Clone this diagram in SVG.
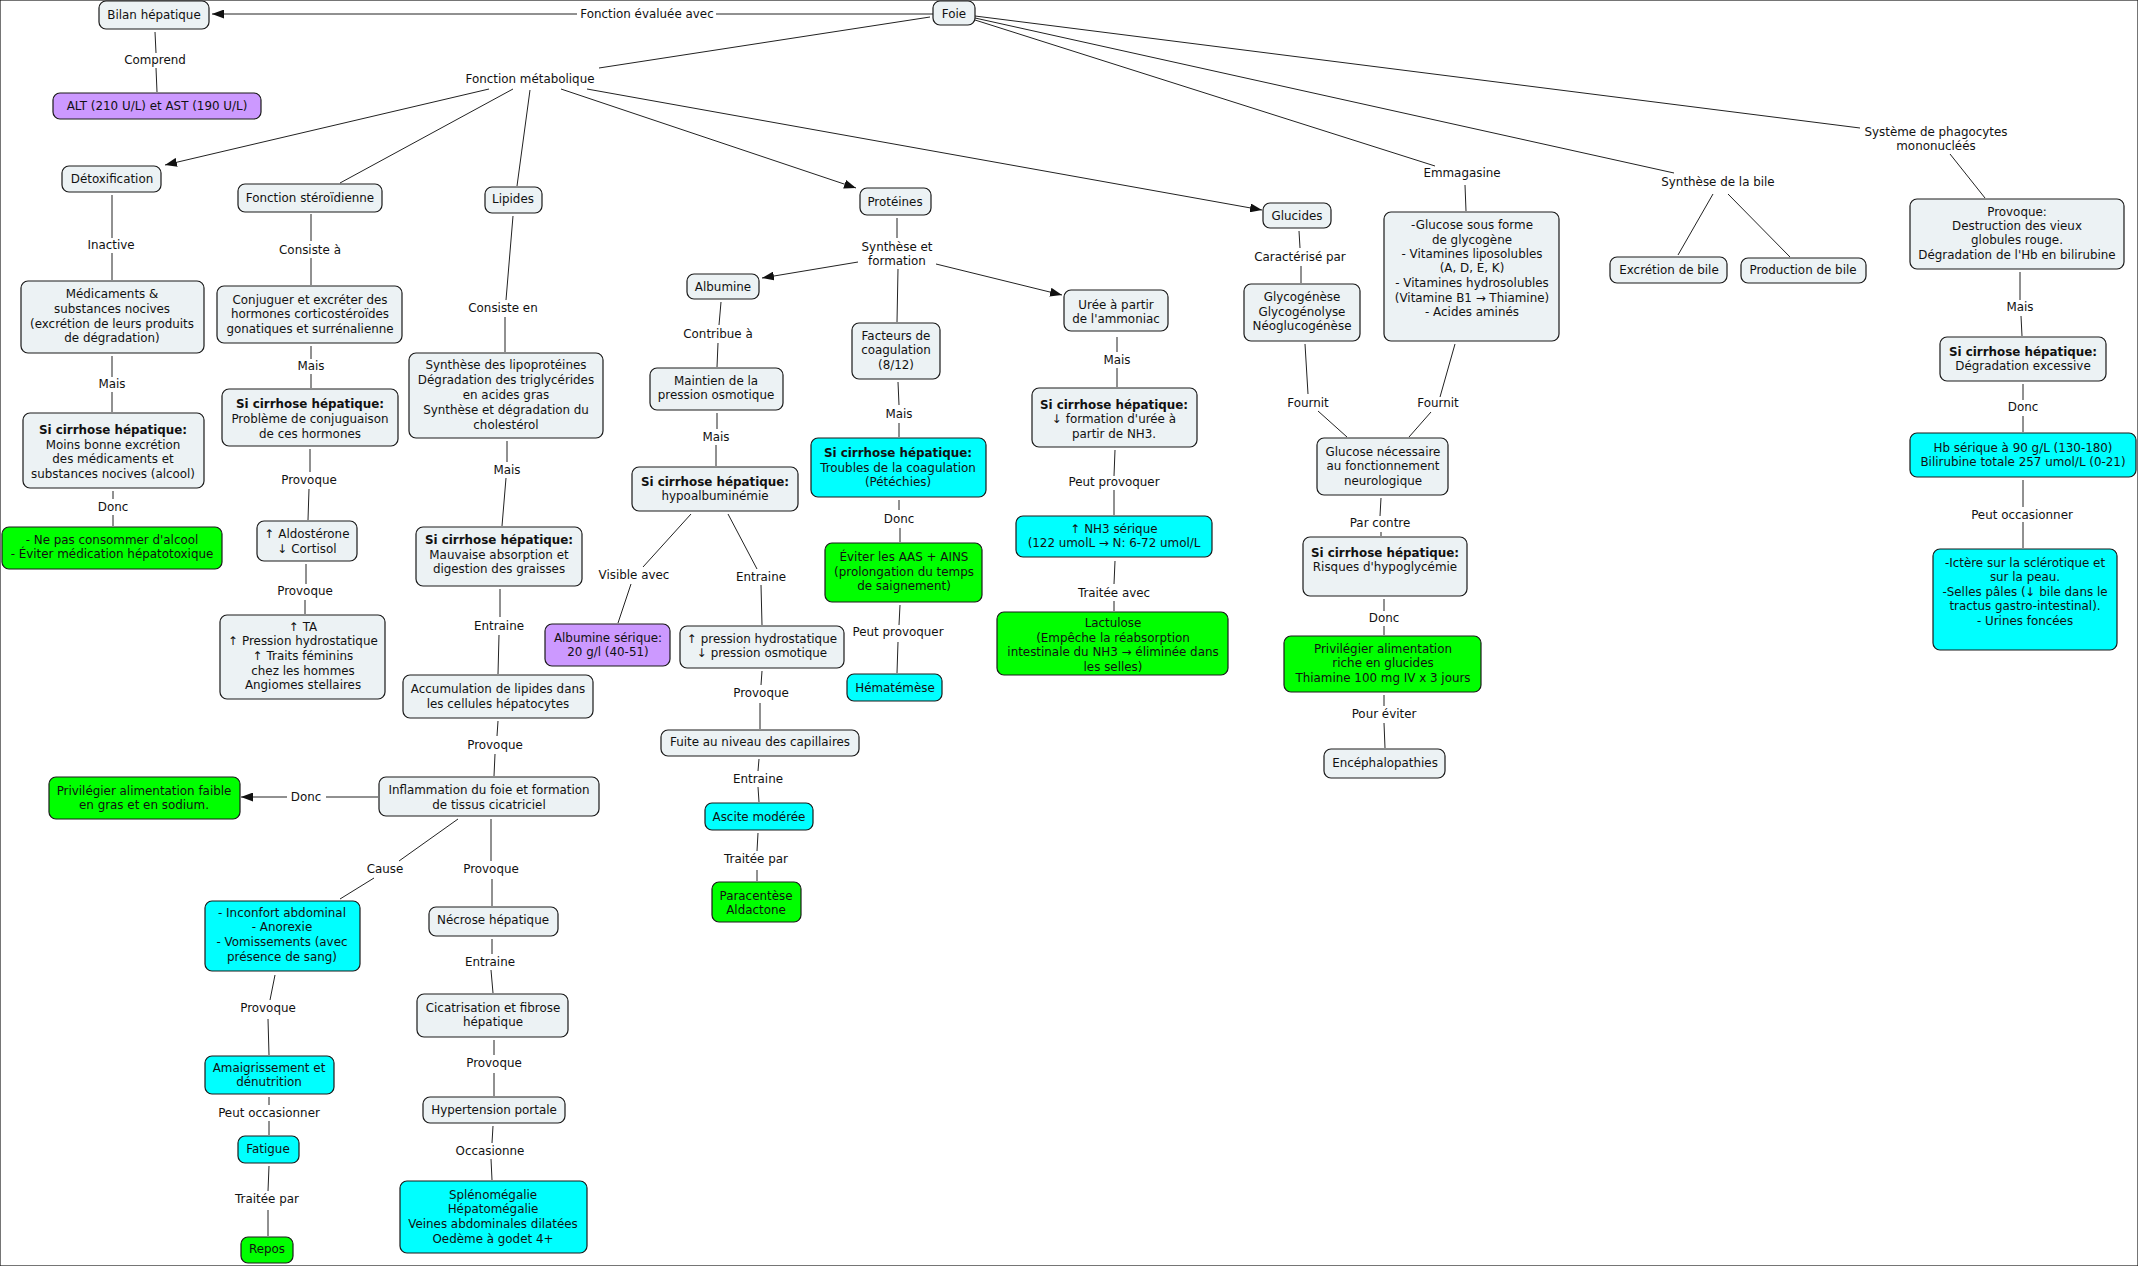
<svg xmlns="http://www.w3.org/2000/svg" width="2138" height="1266" viewBox="0 0 2138 1266">
<style>
rect{stroke:#1a1a1a;stroke-width:1.2}
.n{fill:#ECF2F4}
.cy{fill:#00FFFF}
.gr{fill:#00FF00}
.pu{fill:#CC99FF}
text{font-family:"DejaVu Sans",Verdana,sans-serif;font-size:11.9px;fill:#111;text-anchor:middle}
.b{font-weight:bold}
#connectors line{stroke:#222;stroke-width:1}
.a{marker-end:url(#arr)}
</style>
<defs>
<marker id="arr" markerUnits="userSpaceOnUse" markerWidth="12" markerHeight="9" refX="12" refY="4.5" orient="auto"><path d="M0,0 L12,4.5 L0,9 z" fill="#111"/></marker>
</defs>
<rect x="0" y="0" width="2138" height="1266" fill="#fff" stroke="none"/>
<g id="connectors">
<line x1="933" y1="14" x2="716" y2="14"/><line class="a" x1="577" y1="14" x2="212" y2="14"/>
<line x1="155" y1="32" x2="156" y2="53"/><line x1="156" y1="68" x2="157" y2="92"/>
<line x1="930" y1="17" x2="599" y2="68"/>
<line class="a" x1="489" y1="89" x2="165" y2="165"/>
<line x1="513" y1="89" x2="340" y2="183"/>
<line x1="530" y1="90" x2="517" y2="186"/>
<line class="a" x1="561" y1="89" x2="856" y2="188"/>
<line class="a" x1="587" y1="89" x2="1262" y2="210"/>
<line x1="112" y1="195" x2="112" y2="238"/><line x1="112" y1="253" x2="112" y2="280"/>
<line x1="112" y1="356" x2="112" y2="377"/><line x1="112" y1="392" x2="112" y2="412"/>
<line x1="113" y1="491" x2="113" y2="499"/><line x1="113" y1="515" x2="113" y2="526"/>
<line x1="311" y1="214" x2="311" y2="241"/><line x1="311" y1="258" x2="311" y2="285"/>
<line x1="311" y1="346" x2="311" y2="359"/><line x1="311" y1="374" x2="311" y2="388"/>
<line x1="310" y1="449" x2="310" y2="472"/><line x1="309" y1="489" x2="308" y2="520"/>
<line x1="306" y1="564" x2="306" y2="584"/><line x1="305" y1="600" x2="305" y2="614"/>
<line x1="513" y1="216" x2="506" y2="300"/><line x1="505" y1="317" x2="505" y2="352"/>
<line x1="507" y1="441" x2="507" y2="462"/><line x1="506" y1="478" x2="502" y2="526"/>
<line x1="500" y1="589" x2="500" y2="617"/><line x1="499" y1="635" x2="498" y2="674"/>
<line x1="498" y1="721" x2="497" y2="736"/><line x1="495" y1="754" x2="494" y2="776"/>
<line x1="378" y1="797" x2="326" y2="797"/><line class="a" x1="287" y1="797" x2="241" y2="797"/>
<line x1="458" y1="819" x2="399" y2="861"/><line x1="374" y1="878" x2="340" y2="899"/>
<line x1="491" y1="819" x2="491" y2="861"/><line x1="492" y1="879" x2="492" y2="906"/>
<line x1="275" y1="975" x2="270" y2="1000"/><line x1="268" y1="1019" x2="269" y2="1055"/>
<line x1="269" y1="1097" x2="269" y2="1105"/><line x1="269" y1="1121" x2="269" y2="1135"/>
<line x1="269" y1="1166" x2="268" y2="1191"/><line x1="268" y1="1210" x2="268" y2="1236"/>
<line x1="492" y1="939" x2="492" y2="954"/><line x1="491" y1="970" x2="493" y2="993"/>
<line x1="494" y1="1040" x2="494" y2="1055"/><line x1="494" y1="1073" x2="494" y2="1096"/>
<line x1="493" y1="1126" x2="492" y2="1143"/><line x1="491" y1="1159" x2="492" y2="1180"/>
<line x1="897" y1="218" x2="897" y2="238"/>
<line class="a" x1="858" y1="262" x2="762" y2="278"/>
<line x1="898" y1="269" x2="897" y2="322"/>
<line class="a" x1="936" y1="264" x2="1062" y2="295"/>
<line x1="721" y1="302" x2="719" y2="325"/><line x1="718" y1="343" x2="717" y2="367"/>
<line x1="717" y1="413" x2="717" y2="429"/><line x1="716" y1="445" x2="716" y2="466"/>
<line x1="691" y1="514" x2="643" y2="567"/><line x1="631" y1="584" x2="618" y2="623"/>
<line x1="728" y1="514" x2="757" y2="569"/><line x1="761" y1="585" x2="762" y2="625"/>
<line x1="762" y1="671" x2="761" y2="685"/><line x1="760" y1="703" x2="760" y2="729"/>
<line x1="759" y1="759" x2="758" y2="771"/><line x1="758" y1="787" x2="759" y2="802"/>
<line x1="758" y1="833" x2="757" y2="851"/><line x1="757" y1="870" x2="757" y2="881"/>
<line x1="898" y1="382" x2="899" y2="405"/><line x1="899" y1="423" x2="899" y2="437"/>
<line x1="899" y1="500" x2="899" y2="510"/><line x1="900" y1="528" x2="900" y2="542"/>
<line x1="900" y1="605" x2="899" y2="625"/><line x1="898" y1="642" x2="897" y2="673"/>
<line x1="1117" y1="337" x2="1117" y2="352"/><line x1="1117" y1="368" x2="1117" y2="387"/>
<line x1="1115" y1="450" x2="1114" y2="476"/><line x1="1114" y1="490" x2="1114" y2="515"/>
<line x1="1115" y1="561" x2="1114" y2="584"/><line x1="1114" y1="601" x2="1114" y2="611"/>
<line x1="1299" y1="231" x2="1300" y2="248"/><line x1="1301" y1="266" x2="1301" y2="283"/>
<line x1="1305" y1="344" x2="1308" y2="394"/><line x1="1318" y1="411" x2="1347" y2="437"/>
<line x1="975" y1="20" x2="1435" y2="166"/><line x1="1465" y1="185" x2="1466" y2="211"/>
<line x1="1455" y1="344" x2="1440" y2="397"/><line x1="1431" y1="412" x2="1409" y2="437"/>
<line x1="1381" y1="498" x2="1380" y2="516"/><line x1="1381" y1="532" x2="1381" y2="536"/>
<line x1="1384" y1="599" x2="1384" y2="611"/><line x1="1384" y1="626" x2="1384" y2="635"/>
<line x1="1384" y1="695" x2="1384" y2="706"/><line x1="1384" y1="723" x2="1385" y2="748"/>
<line x1="975" y1="18" x2="1674" y2="173"/>
<line x1="1713" y1="194" x2="1678" y2="255"/><line x1="1728" y1="194" x2="1790" y2="257"/>
<line x1="975" y1="16" x2="1860" y2="128"/>
<line x1="1950" y1="154" x2="1985" y2="198"/>
<line x1="2020" y1="272" x2="2020" y2="300"/><line x1="2021" y1="316" x2="2022" y2="336"/>
<line x1="2023" y1="384" x2="2023" y2="400"/><line x1="2023" y1="416" x2="2023" y2="432"/>
<line x1="2023" y1="480" x2="2023" y2="507"/><line x1="2023" y1="522" x2="2023" y2="548"/>
</g>
<g id="link-labels">
<text x="647" y="18">Fonction évaluée avec</text>
<text x="155" y="64">Comprend</text>
<text x="530" y="83">Fonction métabolique</text>
<text x="111" y="249">Inactive</text>
<text x="310" y="254">Consiste à</text>
<text x="503" y="312">Consiste en</text>
<text x="112" y="388">Mais</text>
<text x="311" y="370">Mais</text>
<text x="507" y="474">Mais</text>
<text x="716" y="441">Mais</text>
<text x="899" y="418">Mais</text>
<text x="1117" y="364">Mais</text>
<text x="2020" y="311">Mais</text>
<text x="113" y="511">Donc</text>
<text x="306" y="801">Donc</text>
<text x="899" y="523">Donc</text>
<text x="1384" y="622">Donc</text>
<text x="2023" y="411">Donc</text>
<text x="309" y="484">Provoque</text>
<text x="305" y="595">Provoque</text>
<text x="495" y="749">Provoque</text>
<text x="491" y="873">Provoque</text>
<text x="268" y="1012">Provoque</text>
<text x="761" y="697">Provoque</text>
<text x="494" y="1067">Provoque</text>
<text x="499" y="630">Entraine</text>
<text x="761" y="581">Entraine</text>
<text x="758" y="783">Entraine</text>
<text x="490" y="966">Entraine</text>
<text x="385" y="873">Cause</text>
<text x="269" y="1117">Peut occasionner</text>
<text x="2022" y="519">Peut occasionner</text>
<text x="267" y="1203">Traitée par</text>
<text x="756" y="863">Traitée par</text>
<text x="490" y="1155">Occasionne</text>
<text x="897" y="251">Synthèse et</text>
<text x="897" y="265">formation</text>
<text x="718" y="338">Contribue à</text>
<text x="634" y="579">Visible avec</text>
<text x="898" y="636">Peut provoquer</text>
<text x="1114" y="486">Peut provoquer</text>
<text x="1114" y="597">Traitée avec</text>
<text x="1300" y="261">Caractérisé par</text>
<text x="1462" y="177">Emmagasine</text>
<text x="1308" y="407">Fournit</text>
<text x="1438" y="407">Fournit</text>
<text x="1380" y="527">Par contre</text>
<text x="1384" y="718">Pour éviter</text>
<text x="1718" y="186">Synthèse de la bile</text>
<text x="1936" y="136">Système de phagocytes</text>
<text x="1936" y="150">mononucléés</text>
</g>
<g id="n-bilan"><rect class="n" x="99" y="1" width="110" height="28" rx="7"/><text x="154" y="19">Bilan hépatique</text></g>
<g id="n-alt"><rect class="pu" x="53" y="93" width="208" height="26" rx="7"/><text x="157" y="110">ALT (210 U/L) et AST (190 U/L)</text></g>
<g id="n-foie"><rect class="n" x="933" y="1" width="42" height="24" rx="7"/><text x="954" y="18">Foie</text></g>
<g id="n-detox"><rect class="n" x="62" y="166" width="99" height="26" rx="7"/><text x="112" y="183">Détoxification</text></g>
<g id="n-sterod"><rect class="n" x="238" y="184" width="144" height="28" rx="7"/><text x="310" y="202">Fonction stéroïdienne</text></g>
<g id="n-lipides"><rect class="n" x="485" y="187" width="57" height="26" rx="7"/><text x="513" y="203">Lipides</text></g>
<g id="n-medic"><rect class="n" x="21" y="281" width="183" height="72" rx="7"/><text x="112"><tspan x="112" y="298">Médicaments &amp;</tspan><tspan x="112" y="313">substances nocives</tspan><tspan x="112" y="328">(excrétion de leurs produits</tspan><tspan x="112" y="342">de dégradation)</tspan></text></g>
<g id="n-cirr-detox"><rect class="n" x="23" y="413" width="181" height="75" rx="7"/><text x="113"><tspan class="b" x="113" y="434">Si cirrhose hépatique:</tspan><tspan x="113" y="449">Moins bonne excrétion</tspan><tspan x="113" y="463">des médicaments et</tspan><tspan x="113" y="478">substances nocives (alcool)</tspan></text></g>
<g id="n-alcool"><rect class="gr" x="2" y="527" width="220" height="42" rx="7"/><text x="112"><tspan x="112" y="544">- Ne pas consommer d'alcool</tspan><tspan x="112" y="558">- Éviter médication hépatotoxique</tspan></text></g>
<g id="n-conj"><rect class="n" x="217" y="286" width="185" height="57" rx="7"/><text x="310"><tspan x="310" y="304">Conjuguer et excréter des</tspan><tspan x="310" y="318">hormones corticostéroïdes</tspan><tspan x="310" y="333">gonatiques et surrénalienne</tspan></text></g>
<g id="n-cirr-ster"><rect class="n" x="222" y="389" width="176" height="57" rx="7"/><text x="310"><tspan class="b" x="310" y="408">Si cirrhose hépatique:</tspan><tspan x="310" y="423">Problème de conjuguaison</tspan><tspan x="310" y="438">de ces hormones</tspan></text></g>
<g id="n-aldo"><rect class="n" x="257" y="521" width="100" height="40" rx="7"/><text x="307"><tspan x="307" y="538">↑ Aldostérone</tspan><tspan x="307" y="553">↓ Cortisol</tspan></text></g>
<g id="n-ta"><rect class="n" x="220" y="615" width="165" height="84" rx="7"/><text x="303"><tspan x="303" y="631">↑ TA</tspan><tspan x="303" y="645">↑ Pression hydrostatique</tspan><tspan x="303" y="660">↑ Traits féminins</tspan><tspan x="303" y="675">chez les hommes</tspan><tspan x="303" y="689">Angiomes stellaires</tspan></text></g>
<g id="n-synth-lip"><rect class="n" x="409" y="353" width="194" height="85" rx="7"/><text x="506"><tspan x="506" y="369">Synthèse des lipoprotéines</tspan><tspan x="506" y="384">Dégradation des triglycérides</tspan><tspan x="506" y="399">en acides gras</tspan><tspan x="506" y="414">Synthèse et dégradation du</tspan><tspan x="506" y="429">cholestérol</tspan></text></g>
<g id="n-cirr-lip"><rect class="n" x="416" y="527" width="166" height="59" rx="7"/><text x="499"><tspan class="b" x="499" y="544">Si cirrhose hépatique:</tspan><tspan x="499" y="559">Mauvaise absorption et</tspan><tspan x="499" y="573">digestion des graisses</tspan></text></g>
<g id="n-accum"><rect class="n" x="403" y="675" width="190" height="43" rx="7"/><text x="498"><tspan x="498" y="693">Accumulation de lipides dans</tspan><tspan x="498" y="708">les cellules hépatocytes</tspan></text></g>
<g id="n-inflam"><rect class="n" x="379" y="777" width="220" height="39" rx="7"/><text x="489"><tspan x="489" y="794">Inflammation du foie et formation</tspan><tspan x="489" y="809">de tissus cicatriciel</tspan></text></g>
<g id="n-gras"><rect class="gr" x="49" y="777" width="191" height="42" rx="7"/><text x="144"><tspan x="144" y="795">Privilégier alimentation faible</tspan><tspan x="144" y="809">en gras et en sodium.</tspan></text></g>
<g id="n-inconfort"><rect class="cy" x="205" y="901" width="155" height="70" rx="7"/><text x="282"><tspan x="282" y="917">- Inconfort abdominal</tspan><tspan x="282" y="931">- Anorexie</tspan><tspan x="282" y="946">- Vomissements (avec</tspan><tspan x="282" y="961">présence de sang)</tspan></text></g>
<g id="n-amaigr"><rect class="cy" x="205" y="1056" width="129" height="38" rx="7"/><text x="269"><tspan x="269" y="1072">Amaigrissement et</tspan><tspan x="269" y="1086">dénutrition</tspan></text></g>
<g id="n-fatigue"><rect class="cy" x="238" y="1136" width="61" height="27" rx="7"/><text x="268" y="1153">Fatigue</text></g>
<g id="n-repos"><rect class="gr" x="241" y="1237" width="52" height="26" rx="7"/><text x="267" y="1253">Repos</text></g>
<g id="n-necrose"><rect class="n" x="429" y="907" width="129" height="29" rx="7"/><text x="493" y="924">Nécrose hépatique</text></g>
<g id="n-cicatr"><rect class="n" x="417" y="994" width="151" height="43" rx="7"/><text x="493"><tspan x="493" y="1012">Cicatrisation et fibrose</tspan><tspan x="493" y="1026">hépatique</tspan></text></g>
<g id="n-hypert"><rect class="n" x="423" y="1097" width="142" height="26" rx="7"/><text x="494" y="1114">Hypertension portale</text></g>
<g id="n-spleno"><rect class="cy" x="400" y="1181" width="187" height="72" rx="7"/><text x="493"><tspan x="493" y="1199">Splénomégalie</tspan><tspan x="493" y="1213">Hépatomégalie</tspan><tspan x="493" y="1228">Veines abdominales dilatées</tspan><tspan x="493" y="1243">Oedème à godet 4+</tspan></text></g>
<g id="n-proteines"><rect class="n" x="860" y="188" width="71" height="27" rx="7"/><text x="895" y="206">Protéines</text></g>
<g id="n-albumine"><rect class="n" x="687" y="274" width="72" height="25" rx="7"/><text x="723" y="291">Albumine</text></g>
<g id="n-maintien"><rect class="n" x="650" y="368" width="133" height="42" rx="7"/><text x="716"><tspan x="716" y="385">Maintien de la</tspan><tspan x="716" y="399">pression osmotique</tspan></text></g>
<g id="n-cirr-alb"><rect class="n" x="632" y="467" width="166" height="44" rx="7"/><text x="715"><tspan class="b" x="715" y="486">Si cirrhose hépatique:</tspan><tspan x="715" y="500">hypoalbuminémie</tspan></text></g>
<g id="n-alb-ser"><rect class="pu" x="545" y="624" width="125" height="42" rx="7"/><text x="608"><tspan x="608" y="642">Albumine sérique:</tspan><tspan x="608" y="656">20 g/l (40-51)</tspan></text></g>
<g id="n-pression"><rect class="n" x="680" y="626" width="164" height="42" rx="7"/><text x="762"><tspan x="762" y="643">↑ pression hydrostatique</tspan><tspan x="762" y="657">↓ pression osmotique</tspan></text></g>
<g id="n-fuite"><rect class="n" x="661" y="730" width="198" height="26" rx="7"/><text x="760" y="746">Fuite au niveau des capillaires</text></g>
<g id="n-ascite"><rect class="cy" x="705" y="803" width="108" height="27" rx="7"/><text x="759" y="821">Ascite modérée</text></g>
<g id="n-paracentese"><rect class="gr" x="712" y="882" width="89" height="40" rx="7"/><text x="756"><tspan x="756" y="900">Paracentèse</tspan><tspan x="756" y="914">Aldactone</tspan></text></g>
<g id="n-facteurs"><rect class="n" x="852" y="323" width="88" height="56" rx="7"/><text x="896"><tspan x="896" y="340">Facteurs de</tspan><tspan x="896" y="354">coagulation</tspan><tspan x="896" y="369">(8/12)</tspan></text></g>
<g id="n-cirr-coag"><rect class="cy" x="811" y="438" width="175" height="59" rx="7"/><text x="898"><tspan class="b" x="898" y="457">Si cirrhose hépatique:</tspan><tspan x="898" y="472">Troubles de la coagulation</tspan><tspan x="898" y="486">(Pétéchies)</tspan></text></g>
<g id="n-eviter"><rect class="gr" x="825" y="543" width="157" height="59" rx="7"/><text x="904"><tspan x="904" y="561">Éviter les AAS + AINS</tspan><tspan x="904" y="576">(prolongation du temps</tspan><tspan x="904" y="590">de saignement)</tspan></text></g>
<g id="n-hematemese"><rect class="cy" x="847" y="674" width="95" height="27" rx="7"/><text x="895" y="692">Hématémèse</text></g>
<g id="n-uree"><rect class="n" x="1064" y="290" width="104" height="41" rx="7"/><text x="1116"><tspan x="1116" y="309">Urée à partir</tspan><tspan x="1116" y="323">de l'ammoniac</tspan></text></g>
<g id="n-cirr-uree"><rect class="n" x="1032" y="388" width="165" height="59" rx="7"/><text x="1114"><tspan class="b" x="1114" y="409">Si cirrhose hépatique:</tspan><tspan x="1114" y="423">↓ formation d'urée à</tspan><tspan x="1114" y="438">partir de NH3.</tspan></text></g>
<g id="n-nh3"><rect class="cy" x="1016" y="516" width="196" height="41" rx="7"/><text x="1114"><tspan x="1114" y="533">↑ NH3 sérique</tspan><tspan x="1114" y="547">(122 umolL → N: 6-72 umol/L</tspan></text></g>
<g id="n-lactulose"><rect class="gr" x="997" y="612" width="231" height="63" rx="7"/><text x="1113"><tspan x="1113" y="627">Lactulose</tspan><tspan x="1113" y="642">(Empêche la réabsorption</tspan><tspan x="1113" y="656">intestinale du NH3 → éliminée dans</tspan><tspan x="1113" y="671">les selles)</tspan></text></g>
<g id="n-glucides"><rect class="n" x="1263" y="203" width="68" height="25" rx="7"/><text x="1297" y="220">Glucides</text></g>
<g id="n-glyco"><rect class="n" x="1244" y="284" width="116" height="57" rx="7"/><text x="1302"><tspan x="1302" y="301">Glycogénèse</tspan><tspan x="1302" y="316">Glycogénolyse</tspan><tspan x="1302" y="330">Néoglucogénèse</tspan></text></g>
<g id="n-emmag"><rect class="n" x="1384" y="212" width="175" height="129" rx="7"/><text x="1472"><tspan x="1472" y="229">-Glucose sous forme</tspan><tspan x="1472" y="244">de glycogène</tspan><tspan x="1472" y="258">- Vitamines liposolubles</tspan><tspan x="1472" y="272">(A, D, E, K)</tspan><tspan x="1472" y="287">- Vitamines hydrosolubles</tspan><tspan x="1472" y="302">(Vitamine B1 → Thiamine)</tspan><tspan x="1472" y="316">- Acides aminés</tspan></text></g>
<g id="n-glucose-neuro"><rect class="n" x="1317" y="438" width="131" height="57" rx="7"/><text x="1383"><tspan x="1383" y="456">Glucose nécessaire</tspan><tspan x="1383" y="470">au fonctionnement</tspan><tspan x="1383" y="485">neurologique</tspan></text></g>
<g id="n-cirr-hypo"><rect class="n" x="1303" y="537" width="164" height="59" rx="7"/><text x="1385"><tspan class="b" x="1385" y="557">Si cirrhose hépatique:</tspan><tspan x="1385" y="571">Risques d'hypoglycémie</tspan></text></g>
<g id="n-priv-gluc"><rect class="gr" x="1284" y="636" width="197" height="56" rx="7"/><text x="1383"><tspan x="1383" y="653">Privilégier alimentation</tspan><tspan x="1383" y="667">riche en glucides</tspan><tspan x="1383" y="682">Thiamine 100 mg IV x 3 jours</tspan></text></g>
<g id="n-enceph"><rect class="n" x="1324" y="749" width="121" height="29" rx="7"/><text x="1385" y="767">Encéphalopathies</text></g>
<g id="n-excretion"><rect class="n" x="1610" y="257" width="117" height="26" rx="7"/><text x="1669" y="274">Excrétion de bile</text></g>
<g id="n-production"><rect class="n" x="1741" y="258" width="125" height="25" rx="7"/><text x="1803" y="274">Production de bile</text></g>
<g id="n-phago"><rect class="n" x="1910" y="199" width="214" height="70" rx="7"/><text x="2017"><tspan x="2017" y="216">Provoque:</tspan><tspan x="2017" y="230">Destruction des vieux</tspan><tspan x="2017" y="244">globules rouge.</tspan><tspan x="2017" y="259">Dégradation de l'Hb en bilirubine</tspan></text></g>
<g id="n-cirr-degr"><rect class="n" x="1940" y="337" width="166" height="44" rx="7"/><text x="2023"><tspan class="b" x="2023" y="356">Si cirrhose hépatique:</tspan><tspan x="2023" y="370">Dégradation excessive</tspan></text></g>
<g id="n-hb"><rect class="cy" x="1910" y="433" width="226" height="44" rx="7"/><text x="2023"><tspan x="2023" y="452">Hb sérique à 90 g/L (130-180)</tspan><tspan x="2023" y="466">Bilirubine totale 257 umol/L (0-21)</tspan></text></g>
<g id="n-ictere"><rect class="cy" x="1933" y="549" width="184" height="101" rx="7"/><text x="2025"><tspan x="2025" y="567">-Ictère sur la sclérotique et</tspan><tspan x="2025" y="581">sur la peau.</tspan><tspan x="2025" y="596">-Selles pâles (↓ bile dans le</tspan><tspan x="2025" y="610">tractus gastro-intestinal).</tspan><tspan x="2025" y="625">- Urines foncées</tspan></text></g>
</svg>
